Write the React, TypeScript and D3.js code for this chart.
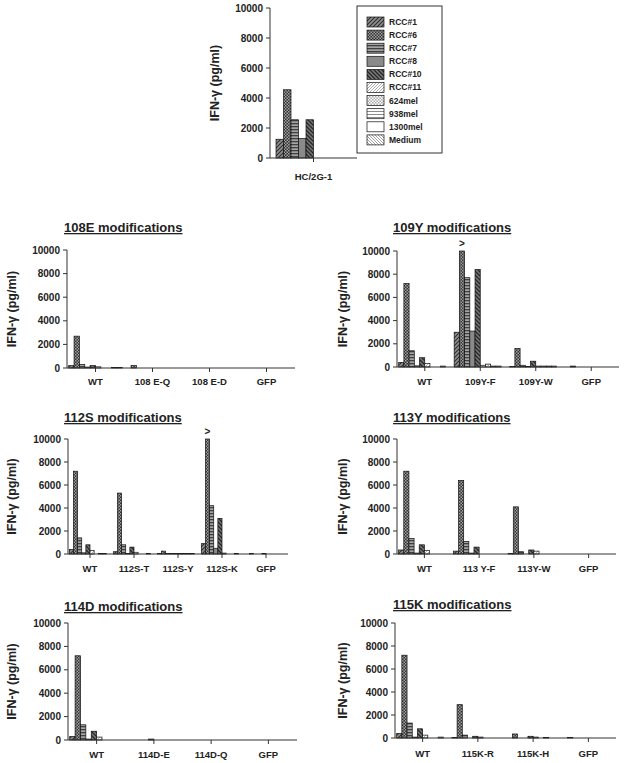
import React from "react";
import * as d3 from "d3";

const seriesNames = ["RCC#1", "RCC#6", "RCC#7", "RCC#8", "RCC#10", "RCC#11", "624mel", "938mel", "1300mel", "Medium"];
const yTicks = [0, 2000, 4000, 6000, 8000, 10000];

const hcCategories = ["HC/2G-1"];
const hcValues = [[1250, 4550, 2550, 1300, 2550, 0, 0, 0, 0, 0]];

const m108Categories = ["WT", "108 E-Q", "108 E-D", "GFP"];
const m108Values = [
  [200, 2700, 300, 80, 200, 100, 0, 0, 50, 50],
  [0, 200, 0, 0, 0, 0, 0, 0, 0, 0],
  [0, 0, 0, 0, 0, 0, 0, 0, 0, 0],
  [0, 0, 0, 0, 0, 0, 0, 0, 0, 0],
];

const m109Categories = ["WT", "109Y-F", "109Y-W", "GFP"];
const m109Values = [
  [400, 7200, 1400, 100, 800, 300, 0, 0, 80, 0],
  [3000, 10000, 7700, 3100, 8400, 150, 250, 80, 80, 0],
  [50, 1600, 150, 50, 500, 80, 80, 80, 80, 0],
  [0, 80, 0, 0, 0, 0, 0, 0, 0, 0],
];

const m112Categories = ["WT", "112S-T", "112S-Y", "112S-K", "GFP"];
const m112Values = [
  [400, 7200, 1400, 100, 800, 300, 0, 50, 50, 0],
  [200, 5300, 800, 50, 600, 150, 0, 0, 50, 0],
  [50, 250, 50, 50, 50, 50, 50, 50, 50, 0],
  [900, 10000, 4200, 500, 3100, 80, 0, 0, 50, 0],
  [0, 50, 0, 0, 50, 0, 0, 0, 0, 0],
];

const m113Categories = ["WT", "113 Y-F", "113Y-W", "GFP"];
const m113Values = [
  [350, 7200, 1350, 80, 800, 300, 0, 0, 0, 0],
  [250, 6400, 1100, 80, 600, 0, 0, 0, 0, 0],
  [50, 4100, 200, 0, 350, 250, 0, 0, 0, 0],
  [0, 0, 0, 0, 0, 0, 0, 0, 0, 0],
];

const m114Categories = ["WT", "114D-E", "114D-Q", "GFP"];
const m114Values = [
  [300, 7200, 1300, 80, 750, 250, 0, 0, 0, 0],
  [0, 0, 0, 0, 80, 0, 0, 0, 0, 0],
  [0, 0, 0, 0, 0, 0, 0, 0, 0, 0],
  [0, 0, 0, 0, 0, 0, 0, 0, 0, 0],
];

const m115Categories = ["WT", "115K-R", "115K-H", "GFP"];
const m115Values = [
  [400, 7200, 1300, 80, 800, 250, 0, 0, 80, 0],
  [50, 2900, 250, 0, 150, 80, 0, 0, 0, 0],
  [0, 350, 0, 0, 150, 80, 0, 50, 0, 0],
  [0, 50, 0, 0, 0, 0, 0, 0, 0, 0],
];

const FONT = "'Liberation Sans', Arial, sans-serif";
const TXT = "#222";
const AX = "#333";

function Patterns() {
  return (
    <defs>
      <pattern id="p0" width="4" height="4" patternUnits="userSpaceOnUse">
        <rect width="4" height="4" fill="#8e8e8e" />
        <path d="M-1,1 L1,-1 M0,4 L4,0 M3,5 L5,3" stroke="#2e2e2e" strokeWidth="1.1" />
      </pattern>
      <pattern id="p1" width="3" height="3" patternUnits="userSpaceOnUse">
        <rect width="3" height="3" fill="#333" />
        <rect x="0" y="0" width="1.5" height="1.5" fill="#a0a0a0" />
        <rect x="1.5" y="1.5" width="1.5" height="1.5" fill="#a0a0a0" />
      </pattern>
      <pattern id="p2" width="3" height="3" patternUnits="userSpaceOnUse">
        <rect width="3" height="3" fill="#a4a4a4" />
        <rect x="0" y="0" width="3" height="1.3" fill="#404040" />
      </pattern>
      <pattern id="p3" width="3" height="3" patternUnits="userSpaceOnUse">
        <rect width="3" height="3" fill="#8a8a8a" />
      </pattern>
      <pattern id="p4" width="4" height="4" patternUnits="userSpaceOnUse">
        <rect width="4" height="4" fill="#7a7a7a" />
        <path d="M0,0 L4,4 M-1,3 L1,5 M3,-1 L5,1" stroke="#262626" strokeWidth="1.3" />
      </pattern>
      <pattern id="p5" width="3" height="3" patternUnits="userSpaceOnUse">
        <rect width="3" height="3" fill="#fff" />
        <path d="M-1,1 L1,-1 M0,3 L3,0 M2,4 L4,2" stroke="#9a9a9a" strokeWidth="0.8" />
      </pattern>
      <pattern id="p6" width="3" height="3" patternUnits="userSpaceOnUse">
        <rect width="3" height="3" fill="#fff" />
        <rect x="0" y="0" width="1.5" height="1.5" fill="#aaa" />
        <rect x="1.5" y="1.5" width="1.5" height="1.5" fill="#aaa" />
      </pattern>
      <pattern id="p7" width="3" height="3" patternUnits="userSpaceOnUse">
        <rect width="3" height="3" fill="#fff" />
        <rect x="0" y="0" width="3" height="1" fill="#8a8a8a" />
      </pattern>
      <pattern id="p8" width="3" height="3" patternUnits="userSpaceOnUse">
        <rect width="3" height="3" fill="#fff" />
      </pattern>
      <pattern id="p9" width="3" height="3" patternUnits="userSpaceOnUse">
        <rect width="3" height="3" fill="#fff" />
        <path d="M0,0 L3,3 M-1,2 L1,4 M2,-1 L4,1" stroke="#8a8a8a" strokeWidth="0.8" />
      </pattern>
    </defs>
  );
}

type PanelProps = {
  title?: string;
  categories: string[];
  values: number[][];
  x0: number;
  x1: number;
  y0: number;
  y1: number;
  titleX?: number;
  titleY?: number;
  labelY: number;
  yLabelX: number;
  padInner?: number;
  padOuter?: number;
  barRange?: [number, number];
};

function Panel(p: PanelProps) {
  const padInner = p.padInner ?? 0.06;
  const padOuter = p.padOuter ?? 0.03;
  const xb = d3
    .scaleBand<string>()
    .domain(p.categories)
    .range([p.x0, p.x1])
    .paddingInner(padInner)
    .paddingOuter(padOuter);
  const xs = d3.scaleBand<string>().domain(seriesNames).range([0, xb.bandwidth()]);
  const y = d3.scaleLinear().domain([0, 10000]).range([p.y0, p.y1]);
  const midY = (p.y0 + p.y1) / 2;
  return (
    <g>
      {p.title && (
        <text
          x={p.titleX}
          y={p.titleY}
          fontSize={13}
          fontWeight="bold"
          fontFamily={FONT}
          fill={TXT}
          textDecoration="underline"
        >
          {p.title}
        </text>
      )}
      <text
        transform={`translate(${p.yLabelX},${midY}) rotate(-90)`}
        textAnchor="middle"
        dy="0.35em"
        fontSize={12.5}
        fontWeight="bold"
        fontFamily={FONT}
        fill={TXT}
      >
        IFN-γ (pg/ml)
      </text>
      {p.categories.map((c, ci) => (
        <g key={c}>
          {p.values[ci].map((v, si) => {
            if (v <= 0) return null;
            const bx = (xb(c) as number) + (xs(seriesNames[si]) as number);
            return (
              <rect
                key={si}
                x={bx}
                y={y(v)}
                width={xs.bandwidth()}
                height={p.y0 - y(v)}
                fill={`url(#p${si})`}
                stroke="#111"
                strokeWidth={0.7}
              />
            );
          })}
          {p.values[ci].map((v, si) =>
            v >= 10000 ? (
              <text
                key={"m" + si}
                x={(xb(c) as number) + (xs(seriesNames[si]) as number) + xs.bandwidth() / 2}
                y={y(v) - 4}
                textAnchor="middle"
                fontSize={10}
                fontWeight="bold"
                fontFamily={FONT}
                fill={TXT}
              >
                {">"}
              </text>
            ) : null
          )}
        </g>
      ))}
      <line x1={p.x0} x2={p.x0} y1={p.y1} y2={p.y0} stroke={AX} strokeWidth={1} />
      <line x1={p.x0} x2={p.x1} y1={p.y0} y2={p.y0} stroke={AX} strokeWidth={1} />
      {yTicks.map((t) => (
        <g key={t}>
          <line x1={p.x0 - 4} x2={p.x0} y1={y(t)} y2={y(t)} stroke={AX} strokeWidth={1} />
          <text
            x={p.x0 - 7}
            y={y(t)}
            dy="0.35em"
            textAnchor="end"
            fontSize={10}
            fontWeight="bold"
            fontFamily={FONT}
            fill={TXT}
          >
            {t}
          </text>
        </g>
      ))}
      {p.categories.map((c) => {
        const cx = (xb(c) as number) + xb.bandwidth() / 2;
        return (
          <g key={"t" + c}>
            <line x1={cx} x2={cx} y1={p.y0} y2={p.y0 + 4} stroke={AX} strokeWidth={1} />
            <text
              x={cx}
              y={p.labelY}
              textAnchor="middle"
              fontSize={9.5}
              fontWeight="bold"
              fontFamily={FONT}
              fill={TXT}
            >
              {c}
            </text>
          </g>
        );
      })}
    </g>
  );
}

function Legend() {
  return (
    <g>
      <rect x={357} y={6} width={85} height={147} fill="#fff" stroke={AX} strokeWidth={1} />
      {seriesNames.map((s, i) => (
        <g key={s}>
          <rect x={367} y={17 + i * 13.1} width={17} height={10} fill={`url(#p${i})`} stroke="#111" strokeWidth={0.7} />
          <text
            x={389}
            y={22 + i * 13.1}
            dy="0.35em"
            fontSize={8.5}
            fontWeight="bold"
            fontFamily={FONT}
            fill={TXT}
          >
            {s}
          </text>
        </g>
      ))}
    </g>
  );
}

export default function App() {
  return (
    <svg
      width={624}
      height={763}
      style={{ position: "absolute", left: 0, top: 0, background: "#fff" }}
    >
      <Patterns />
      <rect width={624} height={763} fill="#fff" />
      <Panel
        categories={hcCategories}
        values={hcValues}
        x0={270}
        x1={357}
        y0={158}
        y1={8}
        labelY={180}
        yLabelX={215}
        padInner={0}
        padOuter={0.08}
      />
      <Legend />
      <Panel
        title="108E modifications"
        categories={m108Categories}
        values={m108Values}
        x0={67}
        x1={295}
        y0={368}
        y1={250}
        titleX={64}
        titleY={232}
        labelY={385}
        yLabelX={12}
      />
      <Panel
        title="109Y modifications"
        categories={m109Categories}
        values={m109Values}
        x0={397}
        x1={619}
        y0={367}
        y1={251}
        titleX={393}
        titleY={232}
        labelY={385}
        yLabelX={343}
      />
      <Panel
        title="112S modifications"
        categories={m112Categories}
        values={m112Values}
        x0={68}
        x1={288}
        y0={554}
        y1={439}
        titleX={64}
        titleY={422}
        labelY={572}
        yLabelX={12}
      />
      <Panel
        title="113Y modifications"
        categories={m113Categories}
        values={m113Values}
        x0={397}
        x1={616}
        y0={554}
        y1={439}
        titleX={393}
        titleY={422}
        labelY={572}
        yLabelX={343}
      />
      <Panel
        title="114D modifications"
        categories={m114Categories}
        values={m114Values}
        x0={68}
        x1={297}
        y0={740}
        y1={623}
        titleX={64}
        titleY={611}
        labelY={758}
        yLabelX={12}
      />
      <Panel
        title="115K modifications"
        categories={m115Categories}
        values={m115Values}
        x0={395}
        x1={616}
        y0={738}
        y1={623}
        titleX={393}
        titleY={609}
        labelY={757}
        yLabelX={343}
      />
    </svg>
  );
}
